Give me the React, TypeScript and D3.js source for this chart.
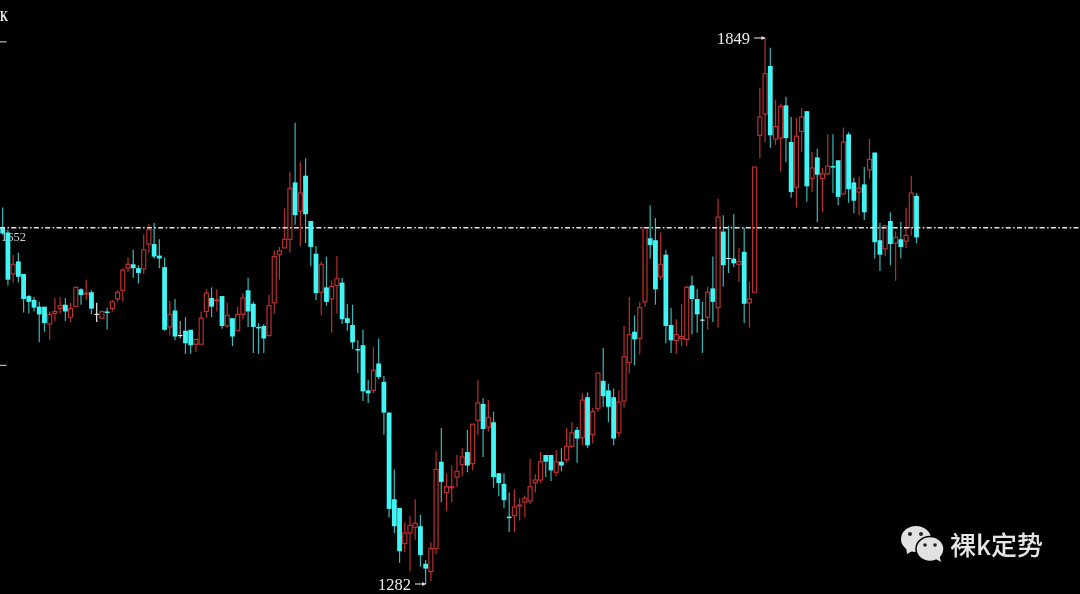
import React from "react";
import * as d3 from "d3";

const opens = [
  1652,1647,1604,1617,1604,1581,1577,1570,1570,1552,
  1563,1568,1572,1559,1570,1588,1583,1585,1562,1558,
  1565,1568,1578,1587,1610,1614,1610,1609,1635,1635,
  1623,1611,1549,1566,1540,1545,1546,1531,1531,1565,
  1579,1576,1581,1550,1558,1545,1562,1587,1573,1549,
  1550,1540,1574,1624,1631,1640,1699,1669,1706,1659,
  1625,1585,1590,1578,1592,1595,1558,1551,1526,1530,
  1483,1483,1511,1492,1460,1370,1361,1324,1335,1341,
  1342,1303,1295,1319,1409,1377,1382,1393,1406,1419,
  1407,1452,1469,1445,1450,1397,1386,1352,1353,1363,
  1367,1368,1387,1390,1416,1416,1398,1409,1411,1425,
  1442,1434,1476,1437,1464,1493,1483,1476,1439,1472,
  1512,1544,1537,1575,1641,1639,1601,1624,1551,1535,
  1537,1536,1592,1578,1556,1559,1589,1569,1648,1620,
  1620,1614,1627,1574,1585,1748,1770,1820,1744,1745,
  1779,1741,1694,1752,1773,1703,1725,1703,1708,1716,
  1722,1687,1749,1699,1689,1697,1712,1730,1639,1630,
  1659,1636,1640,1638,1652,1685,
];
const closes = [
  1646,1598,1614,1601,1578,1575,1569,1562,1553,1562,
  1565,1571,1565,1568,1590,1582,1584,1568,1562,1565,
  1564,1575,1585,1608,1614,1610,1605,1629,1650,1622,
  1620,1546,1562,1539,1540,1532,1530,1536,1558,1584,
  1570,1577,1550,1561,1539,1562,1579,1565,1549,1548,
  1537,1571,1622,1628,1640,1693,1665,1688,1666,1632,
  1584,1614,1575,1591,1599,1557,1553,1533,1525,1482,
  1480,1504,1497,1460,1360,1342,1316,1335,1343,1345,
  1312,1298,1319,1401,1388,1383,1383,1399,1414,1405,
  1448,1470,1443,1455,1393,1387,1369,1351,1362,1364,
  1371,1383,1390,1409,1409,1400,1409,1405,1425,1439,
  1433,1473,1426,1461,1501,1477,1466,1433,1471,1518,
  1541,1536,1569,1652,1634,1588,1614,1550,1535,1541,
  1539,1590,1578,1562,1556,1585,1575,1663,1613,1620,
  1615,1617,1573,1578,1715,1767,1812,1748,1757,1778,
  1745,1689,1747,1767,1695,1714,1707,1708,1716,1715,
  1684,1741,1692,1680,1693,1668,1723,1637,1624,1654,
  1635,1642,1632,1644,1688,1642,
];
const highs = [
  1673,1650,1624,1626,1604,1582,1580,1575,1570,1565,
  1579,1580,1579,1574,1591,1589,1598,1587,1574,1565,
  1569,1577,1587,1610,1621,1629,1613,1645,1656,1657,
  1640,1621,1576,1578,1555,1559,1546,1536,1565,1588,
  1590,1588,1581,1574,1558,1570,1584,1600,1575,1553,
  1552,1582,1628,1632,1672,1710,1761,1720,1724,1659,
  1633,1617,1622,1597,1623,1600,1573,1572,1535,1546,
  1494,1528,1537,1498,1460,1401,1361,1346,1353,1370,
  1354,1307,1325,1420,1444,1397,1405,1416,1423,1442,
  1448,1494,1475,1473,1461,1397,1397,1377,1380,1371,
  1374,1412,1396,1419,1416,1416,1421,1423,1444,1450,
  1445,1480,1481,1465,1501,1527,1490,1485,1483,1550,
  1580,1561,1575,1652,1675,1662,1647,1629,1569,1557,
  1573,1592,1602,1588,1575,1591,1622,1682,1665,1654,
  1666,1631,1652,1596,1715,1797,1849,1839,1785,1781,
  1788,1767,1766,1776,1773,1731,1734,1714,1749,1749,
  1722,1756,1751,1704,1705,1715,1744,1730,1657,1655,
  1668,1648,1658,1673,1706,1688,
];
const lows = [
  1645,1592,1595,1595,1564,1563,1565,1533,1544,1535,
  1555,1563,1555,1554,1570,1572,1577,1562,1554,1558,
  1546,1565,1575,1575,1606,1600,1594,1604,1626,1620,
  1610,1545,1540,1535,1537,1521,1521,1523,1531,1558,
  1559,1565,1547,1548,1529,1545,1557,1549,1522,1521,
  1522,1539,1563,1598,1631,1626,1655,1633,1636,1612,
  1577,1561,1571,1543,1563,1552,1545,1526,1501,1472,
  1470,1480,1495,1437,1351,1335,1304,1315,1295,1328,
  1300,1282,1285,1313,1367,1358,1367,1383,1394,1398,
  1400,1437,1414,1440,1382,1373,1361,1336,1336,1348,
  1351,1365,1377,1387,1393,1389,1394,1399,1408,1423,
  1408,1426,1423,1428,1461,1466,1450,1426,1435,1465,
  1501,1509,1520,1570,1620,1572,1598,1532,1522,1521,
  1529,1529,1541,1543,1522,1546,1554,1548,1591,1605,
  1611,1596,1553,1548,1585,1724,1741,1735,1738,1710,
  1720,1683,1673,1731,1679,1689,1658,1668,1707,1688,
  1675,1686,1678,1667,1665,1660,1703,1620,1607,1622,
  1613,1597,1620,1631,1644,1636,
];

const lastPrice = 1652;
const maxPrice = 1849;
const minPrice = 1282;
const axisTicks = [1845, 1509];
const watermark = "裸k定势";

const CYAN = "#42f5f5";
const CYAN_WICK = "#38b8b8";
const RED = "#b83030";
const WHITE = "#ececec";
const SERIF = "'Liberation Serif', 'DejaVu Serif', serif";

export default function App() {
  const x = d3.scaleLinear().domain([0, opens.length - 1]).range([2.7, 916.5]);
  const y = d3.scaleLinear().domain([minPrice, maxPrice]).range([584, 38]);
  const bodyW = 4.8;
  const hiIdx = highs.indexOf(maxPrice);
  const loIdx = lows.indexOf(minPrice);

  return (
    <svg
      width={1080}
      height={594}
      viewBox="0 0 1080 594"
      style={{ position: "fixed", left: 0, top: 0, background: "#000", display: "block" }}
    >
      <defs>
        <filter id="soft" x="0" y="0" width="100%" height="100%" filterUnits="userSpaceOnUse" primitiveUnits="userSpaceOnUse">
          <feGaussianBlur stdDeviation={0.35} />
        </filter>
      </defs>
      <rect width={1080} height={594} fill="#000" />

      <g filter="url(#soft)">
        <text x={0} y={21} fontFamily={SERIF} fontSize={15} fontWeight={700} textLength={8} lengthAdjust="spacingAndGlyphs" fill={WHITE}>K</text>
        {axisTicks.map((t) => (
          <line key={t} x1={0} x2={6.5} y1={y(t)} y2={y(t)} stroke="#bbb" strokeWidth={1.2} />
        ))}
        <text x={1} y={241} fontFamily={SERIF} fontSize={12.5} fill="#cfcfcf">{lastPrice}</text>

        {opens.map((o, i) => {
          const c = closes[i];
          const cx = x(i);
          const doji = o === c;
          const up = c > o;
          const wick = doji ? (i < 20 ? WHITE : i < 40 ? "#9a9a9a" : CYAN_WICK) : up ? RED : CYAN_WICK;
          const top = y(Math.max(o, c));
          const bottom = y(Math.min(o, c));
          return (
            <g key={i}>
              <line x1={cx} x2={cx} y1={y(highs[i])} y2={y(lows[i])} stroke={wick} strokeWidth={1.2} />
              {doji ? (
                <line x1={cx - 2.2} x2={cx + 2.2} y1={top} y2={top} stroke={WHITE} strokeWidth={1.2} />
              ) : up ? (
                <rect x={cx - 2} y={top} width={4} height={Math.max(bottom - top, 1)} fill="#000" stroke={RED} strokeWidth={1.2} />
              ) : (
                <rect x={cx - bodyW / 2} y={top} width={bodyW} height={Math.max(bottom - top, 1.5)} fill={CYAN} />
              )}
            </g>
          );
        })}

        <line
          x1={0}
          x2={1080}
          y1={y(lastPrice)}
          y2={y(lastPrice)}
          stroke="#e4e4dc"
          strokeWidth={1.4}
          strokeDasharray="5 2.5 1.5 2.3"
        />

        <text x={717} y={y(maxPrice) + 6} fontFamily={SERIF} fontSize={16.5} fill={WHITE}>{maxPrice}</text>
        <line x1={754} x2={x(hiIdx)} y1={y(maxPrice)} y2={y(maxPrice)} stroke={WHITE} strokeWidth={1} />
        <path d={`M${x(hiIdx) - 3.5},${y(maxPrice) - 2} L${x(hiIdx)},${y(maxPrice)} L${x(hiIdx) - 3.5},${y(maxPrice) + 2} Z`} fill={WHITE} />

        <text x={378} y={y(minPrice) + 6} fontFamily={SERIF} fontSize={16.5} fill={WHITE}>{minPrice}</text>
        <line x1={415} x2={x(loIdx)} y1={y(minPrice)} y2={y(minPrice)} stroke={WHITE} strokeWidth={1} />
        <path d={`M${x(loIdx) - 3.5},${y(minPrice) - 2} L${x(loIdx)},${y(minPrice)} L${x(loIdx) - 3.5},${y(minPrice) + 2} Z`} fill={WHITE} />

        <g fill="#e2e2e2">
          <ellipse cx={916} cy={539} rx={15} ry={13} />
          <path d="M906,546 L907,554 L914,550 Z" />
          <ellipse cx={930} cy={549} rx={14} ry={12.5} stroke="#000" strokeWidth={1.5} />
          <path d="M934,558 L941,562 L939,554 Z" />
          <circle cx={910} cy={534} r={2} fill="#222" />
          <circle cx={921} cy={534} r={2} fill="#222" />
          <circle cx={925} cy={545} r={1.8} fill="#222" />
          <circle cx={935} cy={545} r={1.8} fill="#222" />
        </g>
        <text x={950} y={555} fontFamily="'Noto Sans CJK SC', sans-serif" fontSize={26} fontWeight={500} textLength={93} fill="#e6e6e6">{watermark}</text>
      </g>
    </svg>
  );
}
